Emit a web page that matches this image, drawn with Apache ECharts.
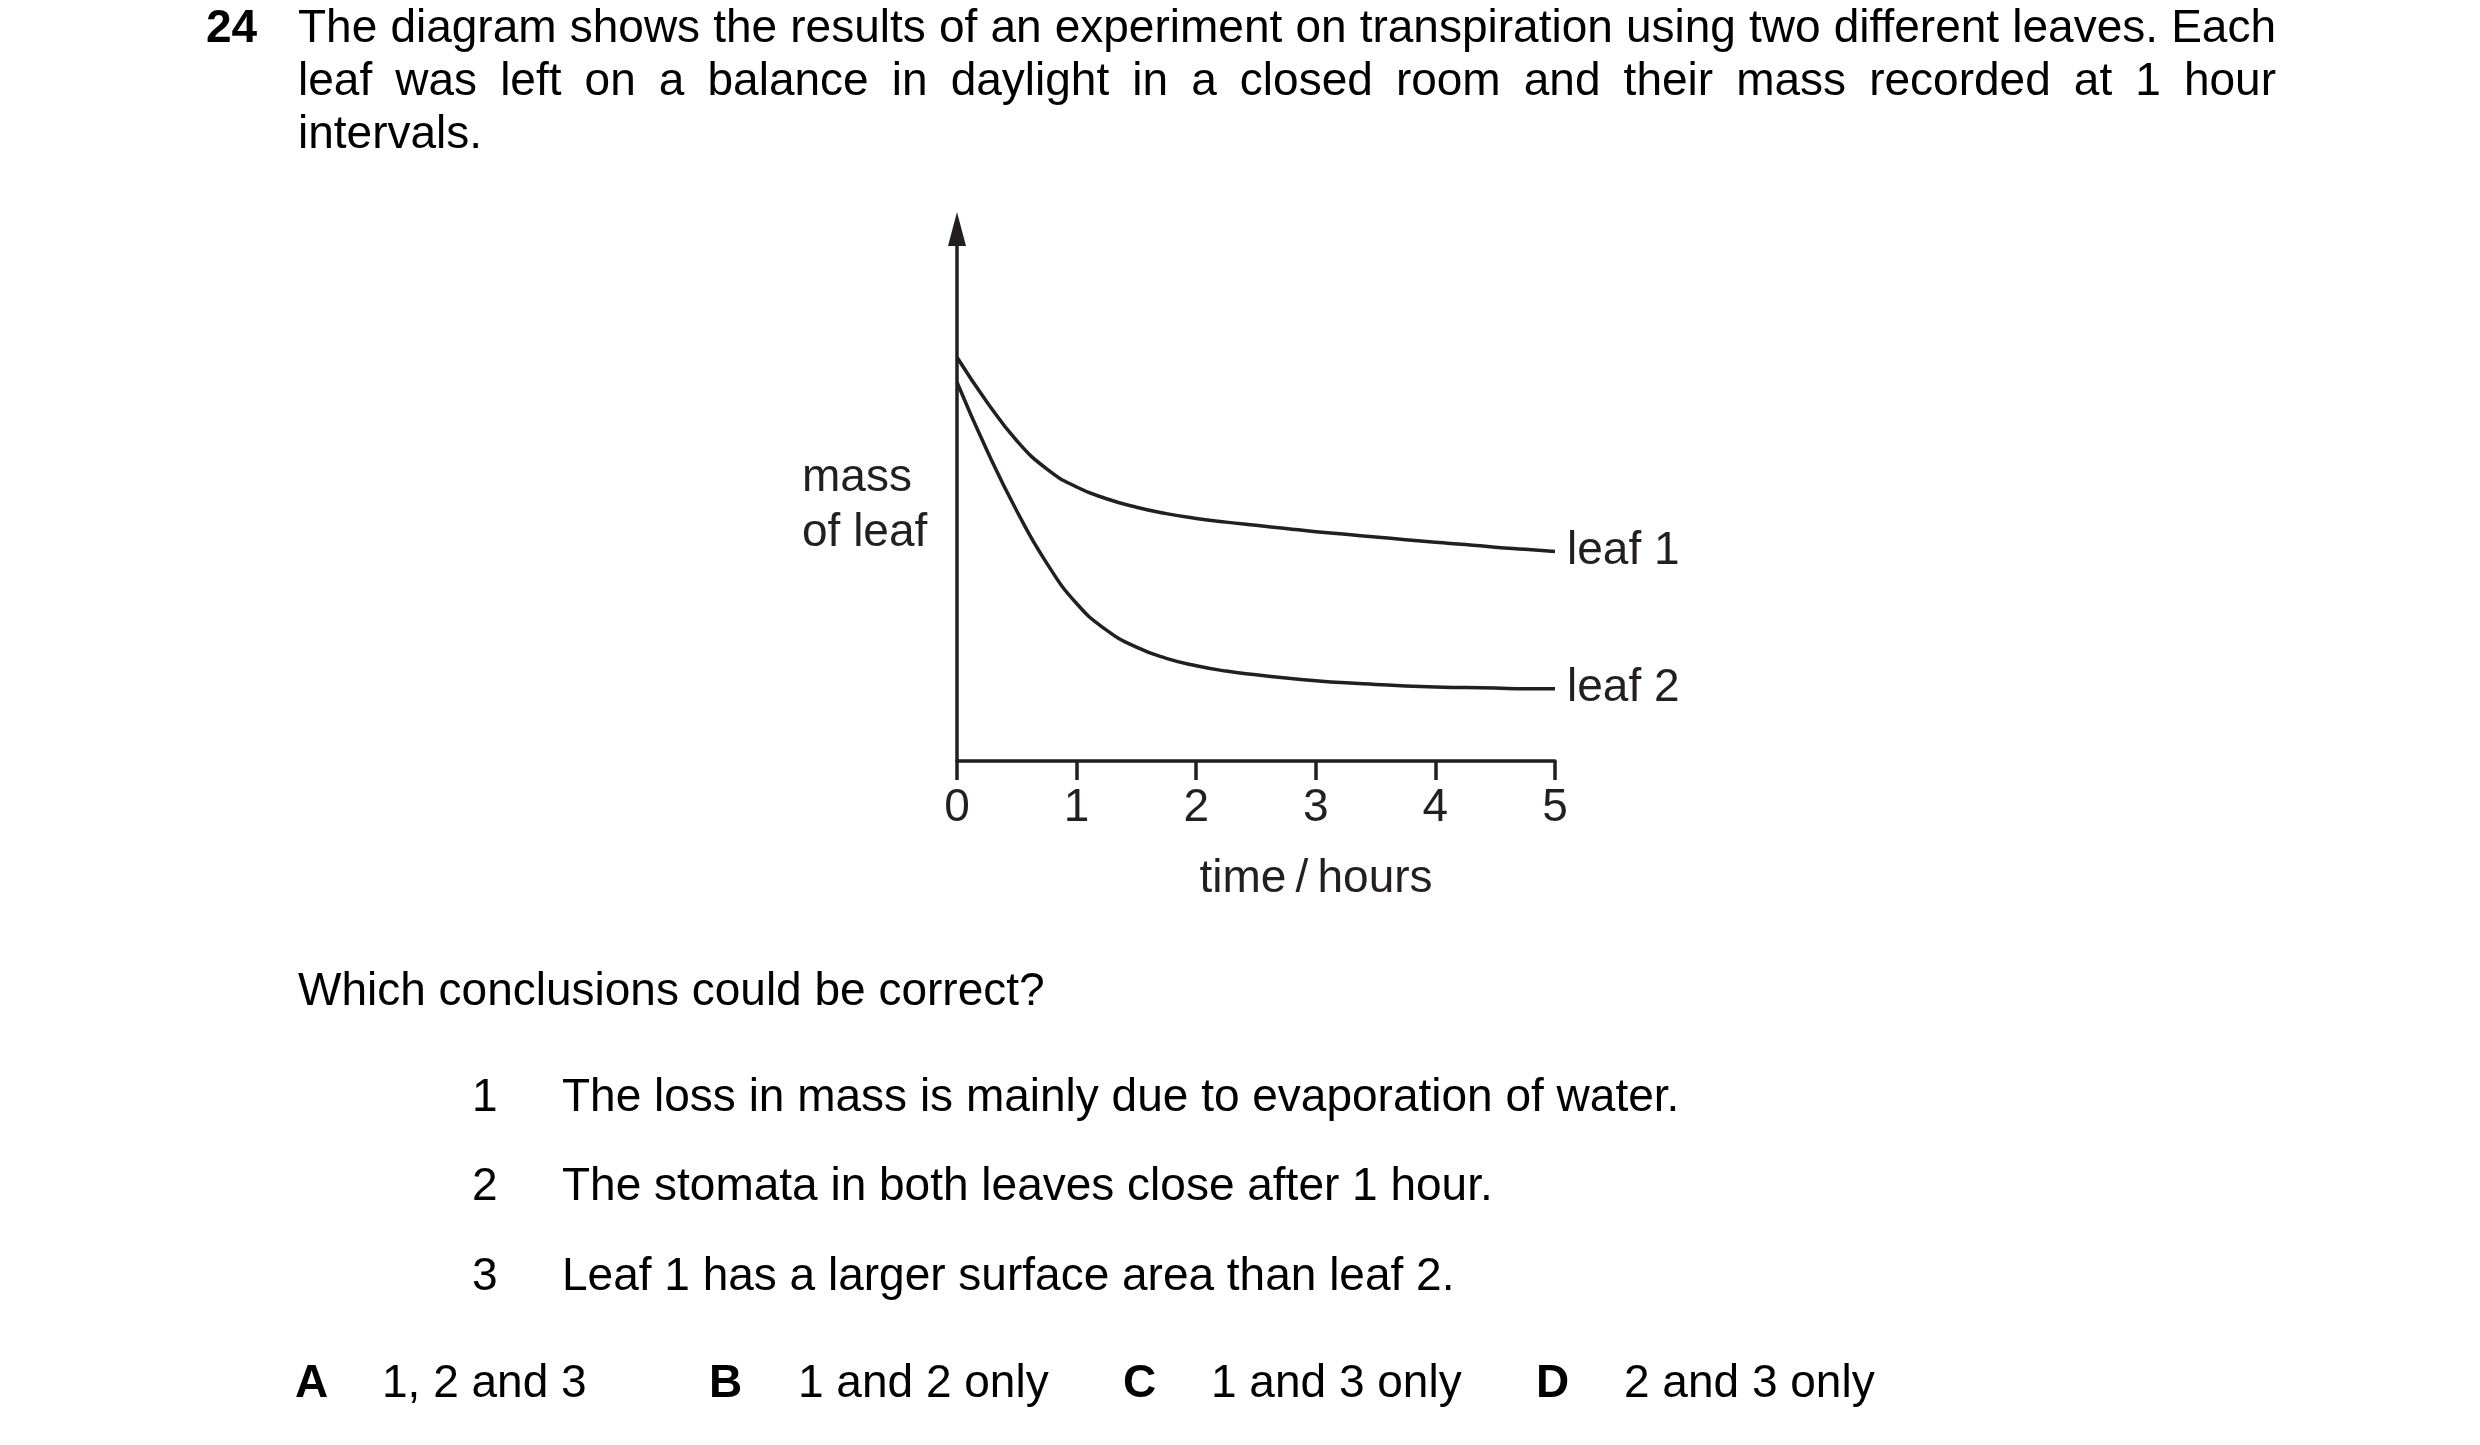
<!DOCTYPE html>
<html>
<head>
<meta charset="utf-8">
<script src="https://cdn.jsdelivr.net/npm/echarts@6/dist/echarts.min.js"></script>
<style>
  html, body { margin: 0; padding: 0; background: #fff; }
  body { width: 2480px; height: 1445px; position: relative; overflow: hidden;
         font-family: "Liberation Sans", Arial, sans-serif; font-size: 46px; line-height: 53px; color: #000; }
  #chart { position: absolute; left: 0; top: 0; width: 2480px; height: 1445px; }
  .t { position: absolute; white-space: nowrap; }
  .b { font-weight: bold; }
  .para { position: absolute; left: 298px; top: 0px; width: 1978px; }
  .jl { text-align: justify; text-align-last: justify; white-space: nowrap; }
</style>
</head>
<body>
<div id="chart"></div>
<div class="t b" style="left:206px;top:0px">24</div>
<div class="para">
  <div class="jl">The diagram shows the results of an experiment on transpiration using two different leaves. Each</div>
  <div class="jl">leaf was left on a balance in daylight in a closed room and their mass recorded at 1 hour</div>
  <div>intervals.</div>
</div>
<div class="t" style="left:298px;top:963px">Which conclusions could be correct?</div>
<div id="items"></div>
<div id="answers"></div>
<script>
// readings (mass in arbitrary units, 0 = time axis)
var timeHours = [0, 0.25, 0.5, 0.75, 1, 1.25, 1.5, 1.75, 2, 2.25, 2.5, 2.75, 3, 3.25, 3.5, 3.75, 4, 4.25, 4.5, 4.75, 5];
var leaf1Mass = [75.9, 67.5, 60.2, 54.9, 51.5, 49.3, 47.7, 46.5, 45.6, 44.9, 44.3, 43.7, 43.1, 42.6, 42.1, 41.6, 41.1, 40.7, 40.2, 39.8, 39.4];
var leaf2Mass = [71.2, 58.4, 47.0, 37.2, 29.6, 24.6, 21.4, 19.3, 17.9, 16.9, 16.2, 15.6, 15.1, 14.7, 14.4, 14.1, 13.9, 13.8, 13.7, 13.6, 13.6];
var seriesNames = ['leaf 1', 'leaf 2'];
var xTickLabels = ['0', '1', '2', '3', '4', '5'];
var yAxisTitle = 'mass\nof leaf';

var conclusions = [
  'The loss in mass is mainly due to evaporation of water.',
  'The stomata in both leaves close after 1 hour.',
  'Leaf 1 has a larger surface area than leaf 2.'
];
var answerKeys = ['A', 'B', 'C', 'D'];
var answerTexts = ['1, 2 and 3', '1 and 2 only', '1 and 3 only', '2 and 3 only'];

// text part of the question
var itemTops = [1069, 1158, 1248];
var itemsBox = document.getElementById('items');
conclusions.forEach(function (c, i) {
  itemsBox.innerHTML += '<div class="t" style="left:472px;top:' + itemTops[i] + 'px">' + (i + 1) + '</div>' +
    '<div class="t" style="left:562px;top:' + itemTops[i] + 'px">' + c + '</div>';
});
var keyLeft = [295, 709, 1123, 1536];
var textLeft = [382, 798, 1211, 1624];
var ansBox = document.getElementById('answers');
answerKeys.forEach(function (k, i) {
  ansBox.innerHTML += '<div class="t b" style="left:' + keyLeft[i] + 'px;top:1355px">' + k + '</div>' +
    '<div class="t" style="left:' + textLeft[i] + 'px;top:1355px">' + answerTexts[i] + '</div>';
});

var ink = '#231f20';
var font = '"Liberation Sans", Arial, sans-serif';

function pairs(ys) {
  return timeHours.map(function (t, i) { return [t, ys[i]]; });
}

var chart = echarts.init(document.getElementById('chart'), null, { renderer: 'canvas' });
chart.setOption({
  animation: false,
  backgroundColor: 'transparent',
  grid: { left: 957, right: 925, top: 229, bottom: 684 },
  xAxis: {
    type: 'value',
    min: 0,
    max: 5,
    interval: 1,
    axisLine: { show: true, onZero: false, lineStyle: { color: ink, width: 3.5 } },
    axisTick: { show: true, length: 19, lineStyle: { color: ink, width: 3.5 } },
    axisLabel: {
      fontSize: 46, color: ink, margin: 24, fontFamily: font,
      formatter: function (v) { return xTickLabels[v]; }
    },
    splitLine: { show: false },
    name: 'time\u2009/\u2009hours',
    nameLocation: 'middle',
    nameGap: 95,
    nameTextStyle: { fontSize: 46, color: ink, fontFamily: font, padding: [0, 0, 0, 120] }
  },
  yAxis: {
    type: 'value',
    min: 0,
    max: 100,
    axisLine: {
      show: true, onZero: false,
      symbol: ['none', 'triangle'], symbolSize: [18, 34],
      lineStyle: { color: ink, width: 3.5 }
    },
    axisTick: { show: false },
    axisLabel: { show: false },
    splitLine: { show: false }
  },
  // y axis title, left aligned over two lines as in the print
  graphic: [{
    type: 'text',
    left: 802,
    top: 451,
    style: { text: yAxisTitle, fontSize: 46, lineHeight: 55, fill: ink, fontFamily: font }
  }],
  series: [leaf1Mass, leaf2Mass].map(function (ys, i) {
    return {
      name: seriesNames[i],
      type: 'line',
      data: pairs(ys),
      smooth: 0.5,
      symbol: 'none',
      lineStyle: { color: ink, width: 3.5 },
      endLabel: {
        show: true,
        formatter: '{a}',
        distance: 12,
        fontSize: 46,
        color: ink,
        fontFamily: font
      }
    };
  })
});
</script>
</body>
</html>
